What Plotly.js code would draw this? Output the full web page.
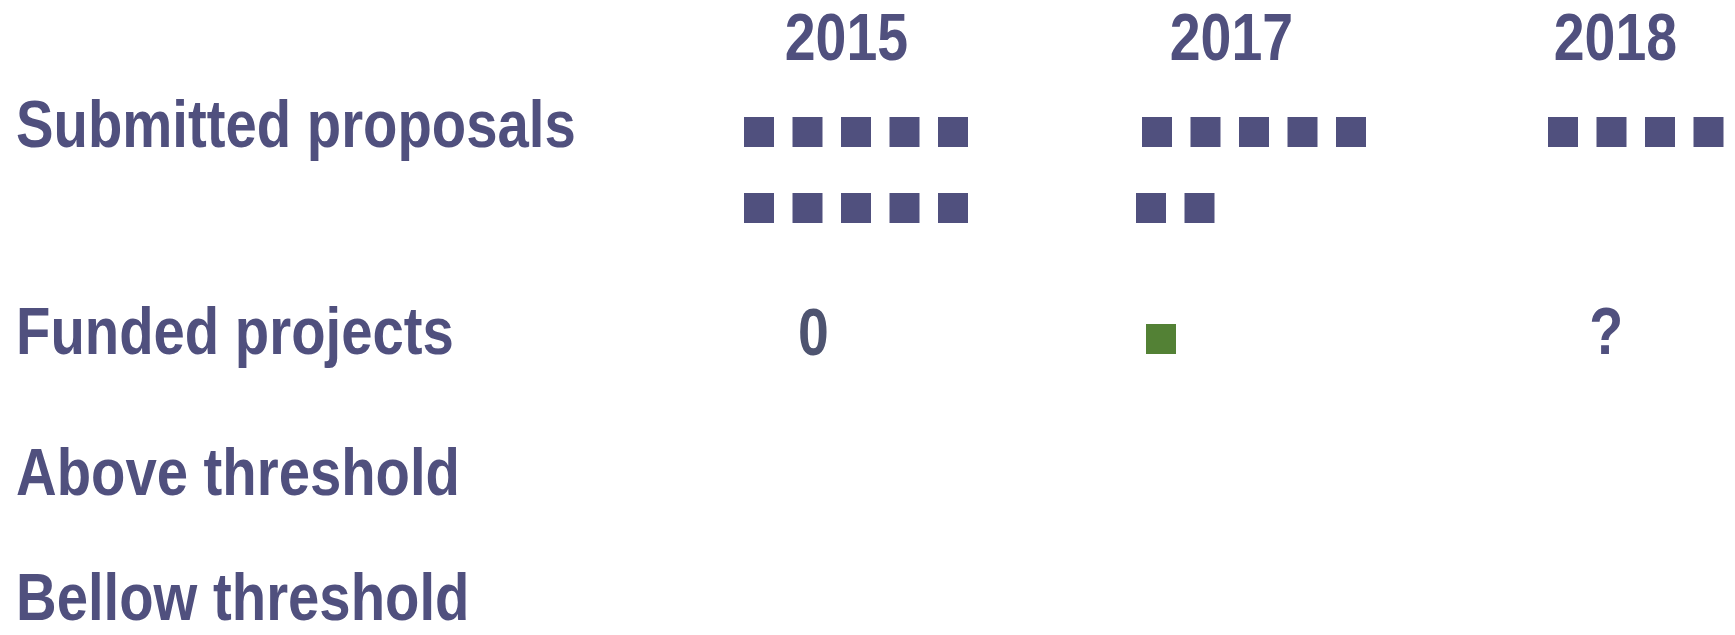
<!DOCTYPE html>
<html>
<head>
<meta charset="utf-8">
<script src="https://cdn.plot.ly/plotly-3.0.1.min.js"></script>
<style>
  html, body { margin: 0; padding: 0; background: #ffffff; }
  #chart { width: 1735px; height: 635px; }
</style>
</head>
<body>
<div id="chart"></div>
<script>
// ---- data ----
const years = ['2015', '2017', '2018'];
const rowLabels = ['Submitted proposals', 'Funded projects', 'Above threshold', 'Bellow threshold'];
const submitted = [10, 7, 4];
const funded = [0, 1, null];          // null = unknown ("?")
const aboveThreshold = [null, null, null];
const belowThreshold = [null, null, null];

// ---- layout constants ----
const W = 1735, H = 635;
const PURPLE = '#50507e';
const GREEN = '#538135';
const GREY = '#4e5470';
const FONT = '"Liberation Sans", Arial, sans-serif';
const CONDENSE = 0.84;                   // narrow (condensed) look of the original lettering
const perRow = 5;
const pitch = 48.5;
const colStart = [759, 1157, 1563];      // first square centre per year column
const yearX = [846.5, 1231, 1615];       // year label centres
const fundedX = [813, 1161, 1606];       // funded-row anchor per column
const labelY = [123.5, 330.5, 471, 596];
const subRowY = [132, 208];
const fundedSqY = 339;

// ---- build square markers ----
const sx = [], sy = [];
years.forEach((yr, i) => {
  for (let k = 0; k < submitted[i]; k++) {
    const r = Math.floor(k / perRow), c = k % perRow;
    sx.push(colStart[i] + c * pitch - (r > 0 && i === 1 ? 6 : 0));
    sy.push(subRowY[0] + r * (subRowY[1] - subRowY[0]));
  }
});
const fx = [], fy = [];
const annotations = [];
years.forEach((yr, i) => {
  const v = funded[i];
  if (v === null) {
    annotations.push({text: '?', x: fundedX[i], y: labelY[1], xanchor: 'center', yanchor: 'middle',
      font: {family: FONT, size: 66, color: PURPLE, weight: 'bold'}});
  } else if (v === 0) {
    annotations.push({text: '0', x: fundedX[i], y: labelY[1] + 1, xanchor: 'center', yanchor: 'middle',
      font: {family: FONT, size: 66, color: GREY, weight: 'bold'}});
  } else {
    for (let k = 0; k < v; k++) { fx.push(fundedX[i] + k * pitch); fy.push(fundedSqY); }
  }
});

years.forEach((yr, i) => {
  annotations.push({text: yr, x: yearX[i], y: 37, xanchor: 'center', yanchor: 'middle',
    font: {family: FONT, size: 66, color: PURPLE, weight: 'bold'}});
});
rowLabels.forEach((lab, j) => {
  annotations.push({text: lab, x: 14, y: labelY[j], xanchor: 'left', yanchor: 'middle', align: 'left',
    font: {family: FONT, size: 67, color: PURPLE, weight: 'bold'}});
});
annotations.forEach(a => { a.xref = 'x'; a.yref = 'y'; a.showarrow = false; });

const traces = [
  {type: 'scatter', mode: 'markers', x: sx, y: sy, name: 'Submitted proposals', hoverinfo: 'skip',
   marker: {symbol: 'square', size: 30, color: PURPLE, line: {width: 0}}},
  {type: 'scatter', mode: 'markers', x: fx, y: fy, name: 'Funded projects', hoverinfo: 'skip',
   marker: {symbol: 'square', size: 30, color: GREEN, line: {width: 0}}}
];

const layout = {
  width: W, height: H,
  margin: {l: 0, r: 0, t: 0, b: 0, pad: 0},
  paper_bgcolor: '#ffffff', plot_bgcolor: '#ffffff',
  showlegend: false,
  xaxis: {range: [0, W], visible: false, fixedrange: true},
  yaxis: {range: [H, 0], visible: false, fixedrange: true},
  annotations: annotations
};

Plotly.newPlot('chart', traces, layout, {displayModeBar: false, staticPlot: true}).then(gd => {
  gd.querySelectorAll('.annotation-text').forEach(el => {
    const L = el.getComputedTextLength();
    el.setAttribute('textLength', (L * CONDENSE).toFixed(1));
    el.setAttribute('lengthAdjust', 'spacingAndGlyphs');
  });
});
</script>
</body>
</html>
